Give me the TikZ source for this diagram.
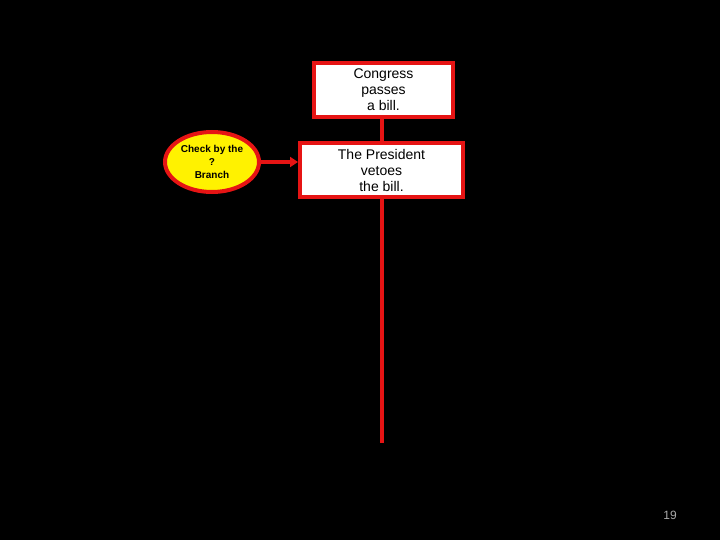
\documentclass[tikz,border=0pt]{standalone}
\usepackage{fontspec}
\setmainfont{Liberation Sans}
\usetikzlibrary{arrows.meta,shapes.geometric}
\definecolor{bred}{RGB}{230,20,20}
\definecolor{pgray}{RGB}{170,170,170}
\begin{document}
\begin{tikzpicture}[x=1pt,y=-1pt,
  redline/.style={draw=bred,line width=4pt},
  stepbox/.style={redline,fill=white,align=center,font=\fontsize{14}{16}\selectfont,inner sep=0pt,anchor=north west},
  checkell/.style={draw=bred,line width=4pt,fill=yellow,ellipse,align=center,font=\bfseries\fontsize{10}{13}\selectfont,inner sep=0pt}]
\fill[black] (0,0) rectangle (720,540);
\useasboundingbox (0,0) rectangle (720,540);
\node[stepbox,minimum width=139pt,minimum height=54pt] (congress) at (312,61) {Congress\\passes\\ a bill.};
\node[stepbox,minimum width=163pt,minimum height=54pt] (veto) at (298,141) {The President\\vetoes\\the bill.};
\coordinate (bottom) at (382,443);
\node[checkell,minimum width=94pt,minimum height=60pt] (check) at (212,162) {Check by the\\?\\Branch};
\draw[redline] (congress.south -| bottom) -- (veto.north -| bottom);
\draw[redline] (veto.south -| bottom) -- (bottom);
\draw[redline,-{Triangle[length=8pt,width=10pt]}] (check.east) -- (veto.west |- check.east);
\node[text=pgray,font=\fontsize{12}{14}\selectfont] (page) at (670,515) {19};
\end{tikzpicture}
\end{document}
